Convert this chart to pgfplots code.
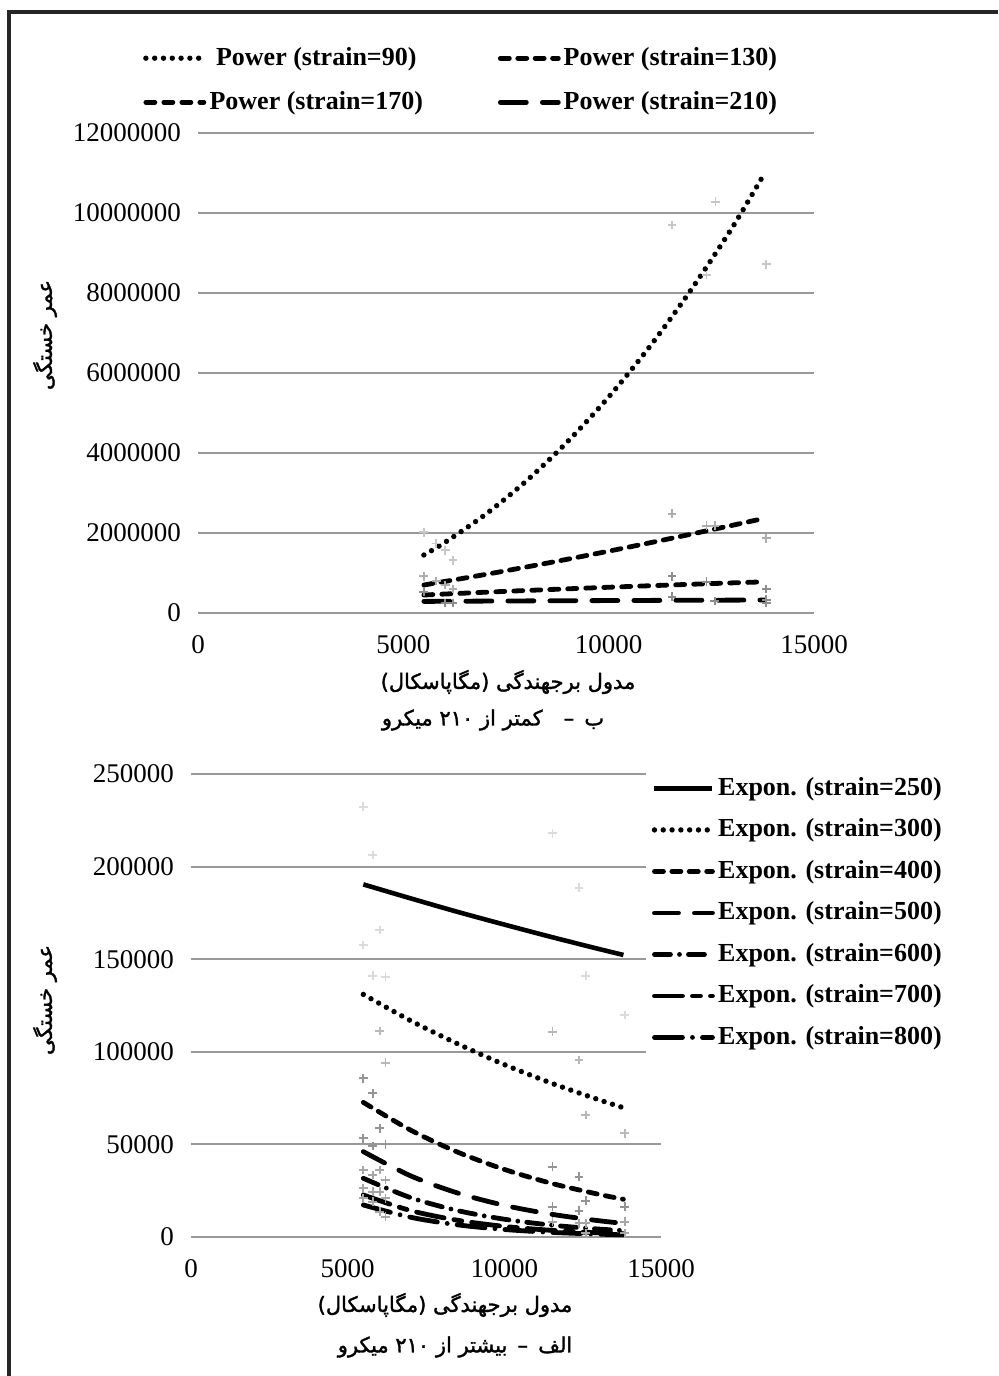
\documentclass[border=0pt]{standalone}
\usepackage{fontspec}
\setmainfont{Liberation Serif}
\newfontfamily\fa[Script=Arabic, BoldFont={DejaVu Sans}, BoldFeatures={FakeBold=1.6}]{DejaVu Sans}
\TeXXeTstate=1
\usepackage{pgfplots}
\pgfplotsset{compat=1.18}

\pgfplotsset{
  base/.style={
    scale only axis,
    axis line style={draw=none},
    tick style={draw=none},
    ymajorgrids,
    grid style={black!40, line width=1pt},
    tick label style={font=\fontsize{13.5}{15}\selectfont},
    xticklabel style={yshift=-7.5pt},
    yticklabel style={xshift=-5pt},
    scaled y ticks=false,
    scaled x ticks=false,
    /pgf/number format/fixed,
    /pgf/number format/1000 sep={},
    /pgf/number format/assume math mode=true,
    xmin=0, xmax=15000,
    xtick={0,5000,10000,15000},
    clip=false,
    legend image code/.code={\draw[##1] (0pt,0pt) -- (29pt,0pt);},
  },
  pts/.style={only marks, mark=+, mark size=2.2pt, line width=0.9pt, color=#1, forget plot},
  dots/.style={black, line width=2.7pt, line cap=round, dash pattern=on 0pt off 4.4pt},
  d130/.style={black, line width=2.4pt, line cap=round, dash pattern=on 4.5pt off 4.2pt},
  d170/.style={black, line width=2.4pt, line cap=round, dash pattern=on 4.5pt off 4.5pt},
  d210/.style={black, line width=2.4pt, line cap=round, dash pattern=on 13pt off 8pt},
  e250/.style={black, line width=2.3pt},
  e400/.style={black, line width=2.4pt, line cap=round, dash pattern=on 4.5pt off 4.2pt},
  e500/.style={black, line width=2.4pt, line cap=round, dash pattern=on 12pt off 8pt},
  e600/.style={black, line width=2.4pt, line cap=round, dash pattern=on 8pt off 4.5pt on 0pt off 4.5pt},
  e700/.style={black, line width=2.4pt, line cap=round, dash pattern=on 14pt off 5pt on 4pt off 5pt},
  e800/.style={black, line width=2.4pt, line cap=round, dash pattern=on 14pt off 5pt on 0pt off 5pt},
}

\begin{document}
\begin{tikzpicture}
\begin{scope}[x=0.5pt,y=-0.5pt]
\useasboundingbox (0,0) rectangle (998,1376);
\draw[line width=1.6pt, black!85] (9,1376) -- (9,12) -- (998,12);
\end{scope}

% ---------------- top chart ----------------
\begin{axis}[base,
  at={(99pt,-306.5pt)}, anchor=south west,
  width=308pt, height=240pt,
  ymin=0, ymax=12000000,
  ytick={0,2000000,4000000,6000000,8000000,10000000,12000000},
  legend columns=2,
  legend style={at={(0.4280,1.1100)}, anchor=center, draw=none, fill=white,
    font=\fontsize{13}{15}\selectfont\bfseries,
    nodes={inner sep=1.5pt, text height=10pt, text depth=3pt},
    row sep=6pt,
    /tikz/every even column/.append style={column sep=36pt}},
]
\addplot[pts=black!22] coordinates {(5500,2020000) (5800,1740000) (6020,1570000) (6210,1320000) (11540,9700000) (12600,10280000) (12380,8450000) (13840,8720000)};
\addplot[pts=black!32] coordinates {(5500,920000) (5800,800000) (6020,700000) (6210,600000) (11540,2480000) (12380,2180000) (12580,2180000) (13840,1870000)};
\addplot[pts=black!45] coordinates {(5500,530000) (6020,250000) (6210,250000) (11540,920000) (12380,780000) (13840,600000) (11540,410000) (12580,300000) (13840,330000) (13840,250000)};

\addplot[dots, smooth] coordinates {(5500,1450000) (6000,1756000) (7000,2465000) (8000,3306000) (9000,4285000) (10000,5400000) (11000,6660000) (12000,8070000) (13000,9620000) (13800,11000000)};
\addlegendentry{Power (strain=90)}
\addplot[d130, smooth] coordinates {(5500,700000) (7000,964000) (8500,1247000) (10000,1546000) (11500,1861000) (13000,2190000) (13800,2370000)};
\addlegendentry{Power (strain=130)}
\addplot[d170, smooth] coordinates {(5500,450000) (7000,520000) (8500,584000) (10000,644000) (11500,700000) (13000,753000) (13800,780000)};
\addlegendentry{Power (strain=170)}
\addplot[d210, smooth] coordinates {(5500,290000) (7000,298000) (8500,305000) (10000,311000) (11500,317000) (13000,322000) (13800,325000)};
\addlegendentry{Power (strain=210)}
\end{axis}

% ---------------- bottom chart ----------------
\begin{axis}[base,
  at={(95.5pt,-618.5pt)}, anchor=south west,
  width=235pt, height=231.5pt,
  ymin=0, ymax=250000,
  ytick={0,50000,100000,150000,200000,250000},
  legend style={at={(1.292,0.7000)}, anchor=center, draw=none, fill=white,
    font=\fontsize{13}{15}\selectfont\bfseries,
    nodes={inner sep=1.5pt, text height=10pt, text depth=3pt},
    row sep=4.75pt},
]
\addplot[pts=black!14] coordinates {(5500,232300) (5800,206300) (6020,165800) (5500,157700) (5800,141100) (6210,140600) (11540,218000) (12380,188600) (12600,141100) (13840,119900)};
\addplot[pts=black!28] coordinates {(6020,111200) (6210,94100) (11540,110900) (12380,95600) (12600,65900) (13840,56000)};
\addplot[pts=black!42] coordinates {(5500,85700) (5800,77600) (6020,58700) (5500,53300) (5800,49100) (6210,50000) (11540,38000) (12380,32600) (13840,16400) (12600,19600) (11540,16400) (12380,14200)};
\addplot[pts=black!35] coordinates {(5500,36200) (5800,33500) (6020,36200) (6210,30800) (5500,26300) (5800,24500) (6020,24500) (6210,20900) (5500,20900) (5800,19100) (6020,13700) (6210,11000) (11540,8300) (12380,7400) (12600,7400) (12600,2000) (13840,8300) (13840,2000)};

\addplot[e250, smooth] coordinates {(5500,190400) (7000,182900) (8500,175600) (10000,168700) (11500,162000) (13000,155600) (13800,152300)};
\addlegendentry{Expon. (strain=250)}
\addplot[dots, smooth] coordinates {(5500,131000) (7000,116900) (8500,104400) (10000,93100) (11500,83100) (13000,74200) (13800,69800)};
\addlegendentry{Expon. (strain=300)}
\addplot[e400, smooth] coordinates {(5500,72700) (7000,57800) (8500,45900) (10000,36500) (11500,29000) (13000,23100) (13800,20400)};
\addlegendentry{Expon. (strain=400)}
\addplot[e500, smooth] coordinates {(5500,46100) (7000,33100) (8500,23800) (10000,17100) (11500,12300) (13000,8830) (13800,7400)};
\addlegendentry{Expon. (strain=500)}
\addplot[e600, smooth] coordinates {(5500,31700) (7000,21300) (8500,14300) (10000,9600) (11500,6430) (13000,4300) (13800,3500)};
\addlegendentry{Expon. (strain=600)}
\addplot[e700, smooth] coordinates {(5500,22700) (7000,14300) (8500,9060) (10000,5720) (11500,3610) (13000,2280) (13800,1800)};
\addlegendentry{Expon. (strain=700)}
\addplot[e800, smooth] coordinates {(5500,17300) (7000,10700) (8500,6590) (10000,4070) (11500,2510) (13000,1550) (13800,1200)};
\addlegendentry{Expon. (strain=800)}
\end{axis}

% ---------------- texts ----------------
\begin{scope}[x=0.5pt,y=-0.5pt]
\node[font=\fa\bfseries\fontsize{10.5}{13}\selectfont, rotate=90] at (45,335) {\beginR عمر خستگی\endR};
\node[font=\fa\bfseries\fontsize{10.5}{13}\selectfont, rotate=90] at (45,1000) {\beginR عمر خستگی\endR};
\node[font=\fa\bfseries\fontsize{10.5}{13}\selectfont] at (508,682) {\beginR مدول برجهندگی (مگاپاسکال)\endR};
\node[font=\fa\bfseries\fontsize{10.5}{13}\selectfont] at (493,720) {\beginR ب \,–\quad کمتر از \beginL ۲۱۰\endL{} میکرو\endR};
\node[font=\fa\bfseries\fontsize{10.5}{13}\selectfont] at (445,1305) {\beginR مدول برجهندگی (مگاپاسکال)\endR};
\node[font=\fa\bfseries\fontsize{10.5}{13}\selectfont] at (455,1347) {\beginR الف \,–\, بیشتر از \beginL ۲۱۰\endL{} میکرو\endR};
\end{scope}
\end{tikzpicture}
\end{document}
